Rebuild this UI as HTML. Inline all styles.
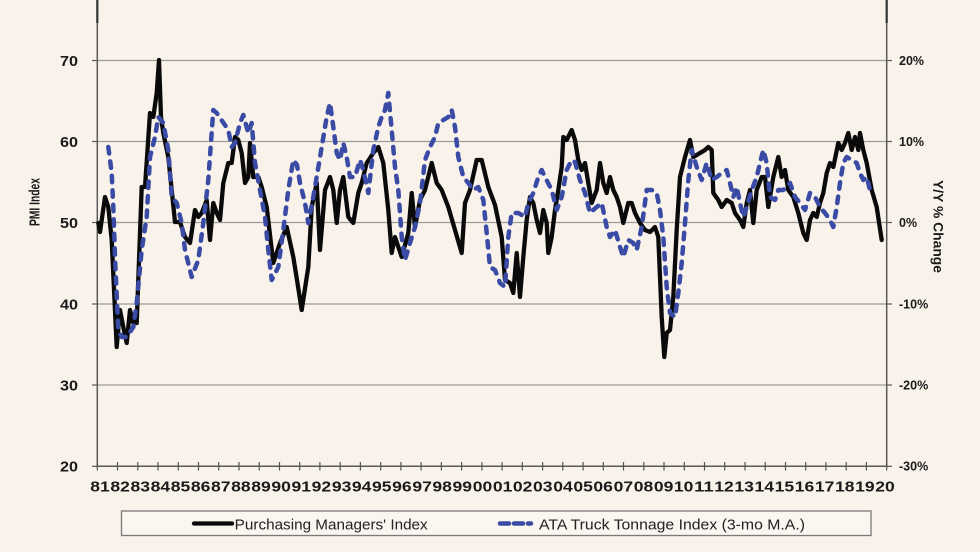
<!DOCTYPE html>
<html>
<head>
<meta charset="utf-8">
<style>
html,body{margin:0;padding:0;background:#f8f2ea;}
svg{display:block;}
text{font-family:"Liberation Sans",Arial,sans-serif;}
</style>
</head>
<body>
<svg width="980" height="552" viewBox="0 0 980 552" xmlns="http://www.w3.org/2000/svg">
<rect x="0" y="0" width="980" height="552" fill="#f8f2ea"/>
<g stroke="#9c9a96" stroke-width="1.2">
<line x1="97" y1="60.5" x2="887" y2="60.5"/>
<line x1="97" y1="141.5" x2="887" y2="141.5"/>
<line x1="97" y1="222.5" x2="887" y2="222.5"/>
<line x1="97" y1="304" x2="887" y2="304"/>
<line x1="97" y1="385" x2="887" y2="385"/>
</g>
<g stroke="#555" stroke-width="1.2">
<line x1="92" y1="60.5" x2="97" y2="60.5"/>
<line x1="92" y1="141.5" x2="97" y2="141.5"/>
<line x1="92" y1="222.5" x2="97" y2="222.5"/>
<line x1="92" y1="304" x2="97" y2="304"/>
<line x1="92" y1="385" x2="97" y2="385"/>
<line x1="92" y1="466.3" x2="97" y2="466.3"/>
<line x1="887" y1="60.5" x2="892" y2="60.5"/>
<line x1="887" y1="141.5" x2="892" y2="141.5"/>
<line x1="887" y1="222.5" x2="892" y2="222.5"/>
<line x1="887" y1="304" x2="892" y2="304"/>
<line x1="887" y1="385" x2="892" y2="385"/>
<line x1="887" y1="466.3" x2="892" y2="466.3"/>
</g>
<g stroke="#5a5a5a" stroke-width="1.5">
<line x1="97.3" y1="23" x2="97.3" y2="466.5"/>
<line x1="886.7" y1="23" x2="886.7" y2="466.5"/>
<line x1="97.3" y1="466.3" x2="886.7" y2="466.3"/>
</g>
<g stroke="#333" stroke-width="2.2">
<line x1="97.3" y1="0" x2="97.3" y2="23"/>
<line x1="886.7" y1="0" x2="886.7" y2="23"/>
</g>
<g stroke="#555" stroke-width="1.2">
<line x1="97.3" y1="462" x2="97.3" y2="470.5"/><line x1="117.5" y1="462" x2="117.5" y2="470.5"/><line x1="137.8" y1="462" x2="137.8" y2="470.5"/><line x1="158" y1="462" x2="158" y2="470.5"/><line x1="178.3" y1="462" x2="178.3" y2="470.5"/><line x1="198.5" y1="462" x2="198.5" y2="470.5"/><line x1="218.7" y1="462" x2="218.7" y2="470.5"/><line x1="239" y1="462" x2="239" y2="470.5"/><line x1="259.2" y1="462" x2="259.2" y2="470.5"/><line x1="279.5" y1="462" x2="279.5" y2="470.5"/><line x1="299.7" y1="462" x2="299.7" y2="470.5"/><line x1="319.9" y1="462" x2="319.9" y2="470.5"/><line x1="340.2" y1="462" x2="340.2" y2="470.5"/><line x1="360.4" y1="462" x2="360.4" y2="470.5"/><line x1="380.7" y1="462" x2="380.7" y2="470.5"/><line x1="400.9" y1="462" x2="400.9" y2="470.5"/><line x1="421.1" y1="462" x2="421.1" y2="470.5"/><line x1="441.4" y1="462" x2="441.4" y2="470.5"/><line x1="461.6" y1="462" x2="461.6" y2="470.5"/><line x1="481.9" y1="462" x2="481.9" y2="470.5"/><line x1="502.1" y1="462" x2="502.1" y2="470.5"/><line x1="522.3" y1="462" x2="522.3" y2="470.5"/><line x1="542.6" y1="462" x2="542.6" y2="470.5"/><line x1="562.8" y1="462" x2="562.8" y2="470.5"/><line x1="583.1" y1="462" x2="583.1" y2="470.5"/><line x1="603.3" y1="462" x2="603.3" y2="470.5"/><line x1="623.5" y1="462" x2="623.5" y2="470.5"/><line x1="643.8" y1="462" x2="643.8" y2="470.5"/><line x1="664" y1="462" x2="664" y2="470.5"/><line x1="684.3" y1="462" x2="684.3" y2="470.5"/><line x1="704.5" y1="462" x2="704.5" y2="470.5"/><line x1="724.7" y1="462" x2="724.7" y2="470.5"/><line x1="745" y1="462" x2="745" y2="470.5"/><line x1="765.2" y1="462" x2="765.2" y2="470.5"/><line x1="785.5" y1="462" x2="785.5" y2="470.5"/><line x1="805.7" y1="462" x2="805.7" y2="470.5"/><line x1="825.9" y1="462" x2="825.9" y2="470.5"/><line x1="846.2" y1="462" x2="846.2" y2="470.5"/><line x1="866.4" y1="462" x2="866.4" y2="470.5"/><line x1="886.7" y1="462" x2="886.7" y2="470.5"/>
</g>
<g font-size="15" font-weight="bold" fill="#1a1a1a" text-anchor="end">
<text x="78" y="66" textLength="18" lengthAdjust="spacingAndGlyphs">70</text>
<text x="78" y="147" textLength="18" lengthAdjust="spacingAndGlyphs">60</text>
<text x="78" y="228" textLength="18" lengthAdjust="spacingAndGlyphs">50</text>
<text x="78" y="309.5" textLength="18" lengthAdjust="spacingAndGlyphs">40</text>
<text x="78" y="390.5" textLength="18" lengthAdjust="spacingAndGlyphs">30</text>
<text x="78" y="471.5" textLength="18" lengthAdjust="spacingAndGlyphs">20</text>
</g>
<g font-size="12.5" font-weight="bold" fill="#1a1a1a">
<text x="899" y="65">20%</text>
<text x="899" y="146">10%</text>
<text x="899" y="227">0%</text>
<text x="899" y="308.5">-10%</text>
<text x="899" y="389.5">-20%</text>
<text x="899" y="470.5">-30%</text>
</g>
<text transform="translate(39.5,202) rotate(-90)" font-size="15" font-weight="bold" fill="#1a1a1a" text-anchor="middle" textLength="48" lengthAdjust="spacingAndGlyphs">PMI Index</text>
<text transform="translate(933.5,226.5) rotate(90)" font-size="13.5" font-weight="bold" fill="#1a1a1a" text-anchor="middle" textLength="93" lengthAdjust="spacingAndGlyphs">Y/Y % Change</text>
<g font-size="15" font-weight="bold" fill="#1a1a1a" text-anchor="middle">
<text x="100" y="491.5" textLength="19.5" lengthAdjust="spacingAndGlyphs">81</text>
<text x="120.1" y="491.5" textLength="19.5" lengthAdjust="spacingAndGlyphs">82</text>
<text x="140.3" y="491.5" textLength="19.5" lengthAdjust="spacingAndGlyphs">83</text>
<text x="160.4" y="491.5" textLength="19.5" lengthAdjust="spacingAndGlyphs">84</text>
<text x="180.5" y="491.5" textLength="19.5" lengthAdjust="spacingAndGlyphs">85</text>
<text x="200.7" y="491.5" textLength="19.5" lengthAdjust="spacingAndGlyphs">86</text>
<text x="220.8" y="491.5" textLength="19.5" lengthAdjust="spacingAndGlyphs">87</text>
<text x="240.9" y="491.5" textLength="19.5" lengthAdjust="spacingAndGlyphs">88</text>
<text x="261" y="491.5" textLength="19.5" lengthAdjust="spacingAndGlyphs">89</text>
<text x="281.2" y="491.5" textLength="19.5" lengthAdjust="spacingAndGlyphs">90</text>
<text x="301.3" y="491.5" textLength="19.5" lengthAdjust="spacingAndGlyphs">91</text>
<text x="321.4" y="491.5" textLength="19.5" lengthAdjust="spacingAndGlyphs">92</text>
<text x="341.6" y="491.5" textLength="19.5" lengthAdjust="spacingAndGlyphs">93</text>
<text x="361.7" y="491.5" textLength="19.5" lengthAdjust="spacingAndGlyphs">94</text>
<text x="381.8" y="491.5" textLength="19.5" lengthAdjust="spacingAndGlyphs">95</text>
<text x="401.9" y="491.5" textLength="19.5" lengthAdjust="spacingAndGlyphs">96</text>
<text x="422.1" y="491.5" textLength="19.5" lengthAdjust="spacingAndGlyphs">97</text>
<text x="442.2" y="491.5" textLength="19.5" lengthAdjust="spacingAndGlyphs">98</text>
<text x="462.3" y="491.5" textLength="19.5" lengthAdjust="spacingAndGlyphs">99</text>
<text x="482.5" y="491.5" textLength="19.5" lengthAdjust="spacingAndGlyphs">00</text>
<text x="502.6" y="491.5" textLength="19.5" lengthAdjust="spacingAndGlyphs">01</text>
<text x="522.7" y="491.5" textLength="19.5" lengthAdjust="spacingAndGlyphs">02</text>
<text x="542.8" y="491.5" textLength="19.5" lengthAdjust="spacingAndGlyphs">03</text>
<text x="563" y="491.5" textLength="19.5" lengthAdjust="spacingAndGlyphs">04</text>
<text x="583.1" y="491.5" textLength="19.5" lengthAdjust="spacingAndGlyphs">05</text>
<text x="603.2" y="491.5" textLength="19.5" lengthAdjust="spacingAndGlyphs">06</text>
<text x="623.4" y="491.5" textLength="19.5" lengthAdjust="spacingAndGlyphs">07</text>
<text x="643.5" y="491.5" textLength="19.5" lengthAdjust="spacingAndGlyphs">08</text>
<text x="663.6" y="491.5" textLength="19.5" lengthAdjust="spacingAndGlyphs">09</text>
<text x="683.7" y="491.5" textLength="19.5" lengthAdjust="spacingAndGlyphs">10</text>
<text x="703.9" y="491.5" textLength="19.5" lengthAdjust="spacingAndGlyphs">11</text>
<text x="724" y="491.5" textLength="19.5" lengthAdjust="spacingAndGlyphs">12</text>
<text x="744.1" y="491.5" textLength="19.5" lengthAdjust="spacingAndGlyphs">13</text>
<text x="764.3" y="491.5" textLength="19.5" lengthAdjust="spacingAndGlyphs">14</text>
<text x="784.4" y="491.5" textLength="19.5" lengthAdjust="spacingAndGlyphs">15</text>
<text x="804.5" y="491.5" textLength="19.5" lengthAdjust="spacingAndGlyphs">16</text>
<text x="824.6" y="491.5" textLength="19.5" lengthAdjust="spacingAndGlyphs">17</text>
<text x="844.8" y="491.5" textLength="19.5" lengthAdjust="spacingAndGlyphs">18</text>
<text x="864.9" y="491.5" textLength="19.5" lengthAdjust="spacingAndGlyphs">19</text>
<text x="885" y="491.5" textLength="19.5" lengthAdjust="spacingAndGlyphs">20</text>
</g>
<polyline fill="none" stroke="#0a0a0a" stroke-width="4.3" stroke-linejoin="round" stroke-linecap="round" points="98.3,223 100,232 105,197 108.3,207 111.7,240 116.7,347 120,310 123.3,327 126.7,343 130,310 133.3,323 136.7,323 141.7,187 145,187 150,113 153.3,117 156.7,93 159,60 161,117 163.3,133 168.3,157 171.7,190 175,222 180,222 185,237 190,243 195,210 198.3,217 201.7,213 206.7,200 210,240 213.3,203 216.7,213 220,220 223.3,183 228.3,163 231.7,163 235,137 238.3,140 241.7,153 245,183 248.3,177 250,143 253.3,177 258.3,177 261.7,187 266.7,207 273.3,263 280,243 286.7,227 293.3,257 297,280 301.7,310 308.3,267 311.7,207 316.7,183 320,250 325,190 330,177 333.3,190 336.7,223 340,190 343.3,177 348.3,217 353.3,223 358.3,193 361.7,183 366.7,163 373.3,153 378.3,147 383.3,163 388.3,210 391.7,253 395,237 401.7,257 408.3,233 411.7,193 415,227 420,200 425,190 431.7,163 436.7,183 441.7,190 448.3,207 455,230 461.7,253 465,203 470,190 476.7,160 481.7,160 488.3,187 495,205 501.7,237 505,280 510,283 513.3,293 516.7,253 520,297 523.3,257 526.7,220 530,197 533.3,203 536.7,220 540,233 543.3,210 546.7,223 548.3,253 551.7,237 555,210 558.3,190 561.7,167 563.3,137 566.7,140 571.7,130 575,140 578.3,160 581.7,170 585,163 588.3,183 591.7,203 596.7,190 600,163 603.3,183 606.7,193 610,177 613.3,190 616.7,197 620,207 623.3,223 628.3,203 631.7,203 635,213 640,223 645,230 650,232 655,227 658.3,237 660,277 661.7,317 664.3,357 666.7,333 670,330 673.3,297 676.7,230 680,177 685,157 690,140 693.3,157 700,153 705,150 708.3,147 711.7,150 713.3,193 718.3,200 721.7,207 726.7,200 731.7,203 735,213 740,220 743.3,227 746.7,203 750,190 753.3,223 756.7,190 761.7,177 765,177 768.3,207 773.3,177 778.3,157 781.7,177 785,170 788.3,190 793.3,197 798.3,213 803.3,233 806.7,240 810,220 813.3,213 816.7,217 820,203 823.3,193 826.7,173 830,163 833.3,167 838.3,143 841.7,150 845,143 848.3,133 851.7,150 855,137 858.3,150 860,133 863.3,150 866.7,163 871.7,190 876.7,207 881.7,240"/>
<polyline fill="none" stroke="#3a4ba6" stroke-width="4.5" stroke-linejoin="round" stroke-linecap="round" stroke-dasharray="6.5 8" points="108.3,147 111.7,173 113.3,207 115,257 118.3,330 121.7,337 126.7,337 133.3,327 136.7,303 141.7,250 146.7,217 150,157 155,137 158.3,117 163.3,123 168.3,150 171.7,197 176.7,203 181.7,223 185,250 191.7,277 198.3,260 203.3,223 208.3,180 213.3,110 216.7,113 228.3,130 231.7,147 235,143 240,123 243.3,115 248.3,133 251.7,123 255,163 260,190 265,217 268.3,250 271.7,280 278.3,267 283.3,230 288.3,190 293.3,160 297,165 300,183 305,203 308.3,223 313.3,197 316.7,177 321.7,147 326.7,117 330,103 333.3,127 336.7,153 340,160 343.3,143 346.7,157 350,177 355,177 360,160 363.3,170 368.3,193 373.3,150 378.3,127 381.7,117 385,110 388.3,93 391.7,130 395,167 398.3,190 401.7,237 405,260 410,243 415,227 420,203 425,160 430,147 435,137 438.3,123 443.3,120 448.3,117 451.7,110 455,127 458.3,157 463.3,177 468.3,183 473.3,190 478.3,187 483.3,200 486.7,233 490,267 495,270 500,283 505,287 508.3,237 511.7,213 518.3,213 525,217 528.3,203 533.3,193 538.3,177 541.7,170 545,177 551.7,190 556.7,210 561.7,197 566.7,170 571.7,160 575,162 580,180 585,193 590,213 596.7,207 601.7,203 606.7,227 610,237 615,230 620,247 623.3,257 628.3,240 633.3,243 636.7,250 641.7,227 646.7,190 651.7,190 656.7,193 660,210 663.3,237 666.7,287 670,313 675,317 678.3,293 681.7,263 685,223 688.3,180 691.7,150 696.7,167 701.7,180 706.7,163 711.7,180 716.7,177 721.7,173 726.7,170 730,183 733.3,197 736.7,187 740,203 743.3,217 746.7,207 751.7,190 756.7,177 760,163 763.3,150 766.7,163 770,197 775,200 778.3,190 783.3,190 790,183 795,197 800,203 805,210 810,193 815,197 820,207 825,213 830,220 833.3,227 836.7,207 840,183 843.3,163 846.7,157 851.7,160 856.7,163 860,173 863.3,180 866.7,177 870,190 873.3,193"/>
<rect x="121.5" y="511" width="749.5" height="24.5" fill="#faf6f0" stroke="#7a7a7a" stroke-width="1.3"/>
<line x1="194" y1="523.5" x2="232" y2="523.5" stroke="#0a0a0a" stroke-width="4.3" stroke-linecap="round"/>
<text x="234.7" y="529.5" font-size="15" fill="#222" textLength="193" lengthAdjust="spacingAndGlyphs">Purchasing Managers' Index</text>
<line x1="500" y1="523.5" x2="531" y2="523.5" stroke="#3a4ba6" stroke-width="4.5" stroke-linecap="round" stroke-dasharray="9 5"/>
<text x="539" y="529.5" font-size="15" fill="#222" textLength="266" lengthAdjust="spacingAndGlyphs">ATA Truck Tonnage Index (3-mo M.A.)</text>
</svg>
</body>
</html>
